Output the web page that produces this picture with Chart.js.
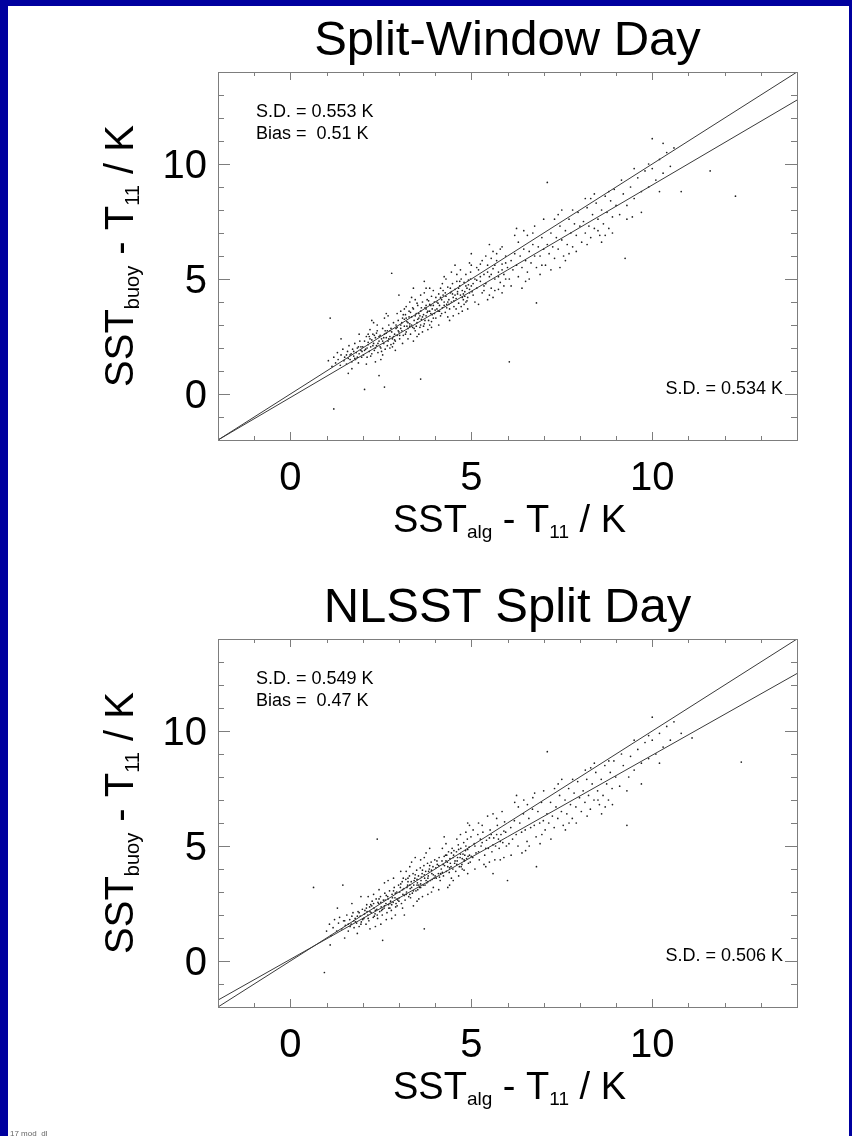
<!DOCTYPE html>
<html>
<head>
<meta charset="utf-8">
<script src="https://cdn.jsdelivr.net/npm/chart.js@4.4.0/dist/chart.umd.min.js"></script>
<style>
  body { margin: 0; width: 852px; height: 1136px; background: #00009f; position: relative; overflow: hidden; }
  #paper { position: absolute; left: 8px; top: 6px; width: 841px; height: 1130px; background: #fff; }
  canvas { position: absolute; left: 0; }
  #stamp { position: absolute; left: 10px; top: 1129px; font: 8px "Liberation Sans", sans-serif; color: #666; }
</style>
</head>
<body>
<div id="paper"></div>
<canvas id="chartTop" width="852" height="568" style="top:0px"></canvas>
<canvas id="chartBottom" width="852" height="568" style="top:567px"></canvas>
<div id="stamp">17 mod_dl</div>
<script>
// axis range and ticks (same for both panels)
const axisMin = -2;
const axisMax = 14;
const tickValues = [-2, -1, 0, 1, 2, 3, 4, 5, 6, 7, 8, 9, 10, 11, 12, 13, 14];
const tickLabels = [0, 5, 10];

// reference lines: x at both ends, y for the 1:1 line and the fitted lines
const lineEndsX = [-2, 14];
const oneToOneY = [-2, 14];
const fitTopY = [-2.0, 12.78];
const fitBottomY = [-1.7, 12.5];

const titles = ['Split-Window Day', 'NLSST Split Day'];
const sdLeft = ['S.D. = 0.553 K', 'S.D. = 0.549 K'];
const biasLeft = ['Bias =  0.51 K', 'Bias =  0.47 K'];
const sdRight = ['S.D. = 0.534 K', 'S.D. = 0.506 K'];

// matchups (SST_alg - T11, SST_buoy - T11)
const pointsTop = `
1.05,1.45 1.1,3.3 1.15,1.2 1.2,1.6 1.25,1.35 1.3,1.8 1.32,1.5 1.38,1.25 1.4,1.7 1.45,1.95 1.48,1.45 1.5,1.6 1.55,1.3
1.58,1.85 1.6,1.55 1.62,2.1 1.65,1.7 1.7,1.4 1.72,1.95 1.75,1.65 1.78,2.2 1.8,1.5 1.82,1.8 1.85,2.0 1.88,1.35 1.9,1.75
1.92,2.3 1.95,1.9 1.97,1.6 2.0,2.05 1.2,-0.65 1.6,0.9 1.9,2.6 1.4,2.4 1.7,1.1
2.02,1.7 2.05,2.3 2.08,1.95 2.1,2.5 2.12,1.6 2.15,2.15 2.18,1.85 2.2,2.4 2.22,2.05 2.25,1.75 2.28,2.6 2.3,2.2 2.32,1.9
2.35,2.45 2.38,2.1 2.4,2.75 2.42,1.8 2.45,2.3 2.48,2.55 2.5,2.0 2.52,2.4 2.55,2.85 2.58,2.2 2.6,2.6 2.62,1.95 2.65,2.45
2.68,2.75 2.7,2.3 2.72,3.0 2.75,2.5 2.78,2.15 2.8,2.7 2.82,2.4 2.85,3.1 2.88,2.6 2.9,2.3 2.92,2.85 2.95,2.55 2.98,3.2
3.0,2.7 2.1,1.3 2.3,3.1 2.5,1.5 2.7,3.4 2.9,1.9 2.4,3.0 2.6,3.3 2.2,2.8 2.8,5.25 2.35,1.4 2.55,1.7 2.75,2.0 2.65,3.5
2.45,0.8 2.85,2.2 2.15,2.6 2.95,3.5 2.05,0.2 2.25,3.2 2.6,0.3
3.02,2.4 3.05,3.0 3.08,2.75 3.1,3.3 3.12,2.55 3.15,2.95 3.18,3.45 3.2,2.7 3.22,3.15 3.25,2.85 3.28,3.6 3.3,3.05 3.32,2.6
3.35,3.35 3.38,2.9 3.4,3.7 3.42,3.2 3.45,2.75 3.48,3.5 3.5,3.1 3.52,3.85 3.55,3.3 3.58,2.9 3.6,3.6 3.62,3.25 3.65,4.0
3.68,3.45 3.7,3.05 3.72,3.75 3.75,3.4 3.78,4.1 3.8,3.6 3.82,3.2 3.85,3.9 3.88,3.5 3.9,4.25 3.92,3.7 3.95,3.3 3.98,4.0
4.0,3.65 3.1,2.2 3.3,4.0 3.5,2.5 3.7,4.4 3.9,2.9 3.2,3.8 3.4,2.3 3.6,4.3 3.8,2.8 3.15,3.7 3.35,4.2 3.55,2.6 3.75,4.6
3.95,4.5 3.45,4.1 3.65,2.7 3.25,2.4 3.85,3.0 3.05,3.6 3.6,0.65 3.0,4.3 3.4,4.6 3.7,4.9 3.9,3.15 3.5,3.95 3.3,2.95
3.75,3.7 3.6,3.0 3.2,3.3 3.85,4.6
4.02,3.3 4.05,4.0 4.08,3.6 4.1,4.35 4.12,3.85 4.15,3.4 4.18,4.1 4.2,3.75 4.22,4.5 4.25,4.0 4.28,3.55 4.3,4.25 4.32,3.9
4.35,4.65 4.38,4.1 4.4,3.7 4.42,4.4 4.45,4.0 4.48,4.8 4.5,4.2 4.52,3.8 4.55,4.55 4.58,4.15 4.6,4.9 4.62,4.35 4.65,3.95
4.68,4.7 4.7,4.3 4.72,5.0 4.75,4.5 4.78,4.1 4.8,4.85 4.82,4.45 4.85,5.2 4.88,4.6 4.9,4.2 4.92,4.95 4.95,4.55 4.98,5.3
5.0,4.7 4.1,3.0 4.3,5.0 4.5,3.4 4.7,5.4 4.9,3.7 4.2,4.8 4.4,3.2 4.6,5.2 4.8,3.9 4.15,4.6 4.35,3.35 4.55,5.6 4.75,3.6
4.95,5.7 4.25,5.1 4.45,5.3 4.65,3.5 4.85,4.0
5.05,4.3 5.1,5.0 5.15,4.6 5.2,5.4 5.25,4.9 5.3,4.4 5.35,5.2 5.4,4.8 5.45,5.6 5.5,5.1 5.55,4.6 5.6,5.45 5.65,5.0 5.7,5.8
5.75,5.3 5.8,4.85 5.85,5.65 5.9,5.2 5.95,6.0 6.0,5.5 5.1,4.0 5.3,5.8 5.5,4.3 5.7,6.1 5.9,4.7 5.2,3.9 5.4,6.0 5.6,4.2
5.8,6.3 5.0,5.6 5.25,5.65 5.45,4.1 5.65,4.5 5.85,6.4 5.35,4.5 5.55,5.9 5.75,4.55 5.95,5.0 5.15,5.5 5.6,6.2 5.5,6.5
5.85,4.4 5.0,6.1
6.05,5.0 6.1,5.8 6.15,5.4 6.2,6.1 6.25,5.6 6.3,5.1 6.35,6.0 6.4,5.5 6.45,6.3 6.5,5.8 6.55,5.3 6.6,6.2 6.65,5.7 6.7,6.5
6.75,6.0 6.8,5.5 6.85,6.4 6.9,6.0 6.95,6.8 7.0,6.3 6.1,4.7 6.3,6.6 6.5,4.9 6.7,7.0 6.9,5.2 6.2,6.9 6.4,4.6 6.6,5.0
6.8,3.96 6.05,1.4 6.25,7.2 6.45,7.1 6.75,7.3 6.95,5.6 6.55,6.9
7.05,5.6 7.1,6.5 7.15,6.1 7.2,7.0 7.25,6.4 7.3,5.9 7.35,6.8 7.4,6.3 7.45,7.3 7.5,6.7 7.55,6.0 7.6,7.1 7.65,6.5 7.7,7.6
7.75,7.0 7.8,6.4 7.85,7.4 7.9,6.9 7.95,7.9 8.0,7.3 7.1,9.2 7.2,5.4 7.4,7.8 7.6,5.8 7.8,8.0 7.3,7.6 7.7,6.1 7.5,8.0
7.9,6.2 7.0,7.6 7.45,5.5
8.05,6.6 8.1,7.5 8.15,7.0 8.2,8.1 8.25,7.3 8.3,6.8 8.35,7.8 8.4,7.2 8.45,8.3 8.5,7.6 8.55,6.9 8.6,8.0 8.65,7.4 8.7,8.6
8.75,7.9 8.8,7.2 8.85,8.4 8.9,7.7 8.95,8.9 9.0,8.2 8.2,6.5 8.4,8.7 8.6,6.6 8.8,8.8 8.3,8.5 8.7,6.9 8.5,7.1 8.9,7.0
8.15,8.5
9.1,7.8 9.2,8.7 9.25,5.9 9.3,8.2 9.4,9.0 9.5,8.5 9.6,9.4 9.7,8.8 9.8,9.7 9.9,9.0 10.0,9.8 10.0,11.1 10.1,9.3 10.2,10.2
10.3,9.6 10.4,10.5 10.5,9.9 9.3,7.6 9.5,9.8 9.7,7.9 9.9,10.0 10.2,8.8 10.6,10.7 9.15,9.3 9.45,7.7 10.8,8.8 11.6,9.7
12.3,8.6 10.3,10.9`;

// extra matchups in the dense core of the top panel
const pointsTopCore = `
1.55,1.7 1.65,1.5 1.75,1.85 1.85,1.6 1.95,2.05 2.05,1.9 2.15,2.25 2.25,2.35 2.35,2.0 2.45,2.5 2.55,2.3 2.65,2.65
2.75,2.75 2.85,2.5 2.95,2.9 3.05,2.85 3.15,3.25 3.25,3.1 3.35,3.0 3.45,3.4 3.55,3.5 3.65,3.35 3.75,3.85 3.85,3.6
3.95,3.85 4.05,3.7 4.15,4.2 4.25,3.85 4.35,4.0 4.45,4.45 4.55,4.3 4.65,4.6 4.75,4.2 4.85,4.7 4.95,4.4 5.05,4.8
5.15,4.95 5.25,5.1 5.35,4.7 5.45,5.3 5.55,5.2 5.65,5.6 5.75,5.1 5.85,5.4 5.95,5.7
2.12,2.0 2.22,1.65 2.32,2.55 2.42,2.2 2.52,1.85 2.62,2.75 2.72,2.4 2.82,2.05 2.92,3.0 3.02,2.55 3.12,3.45 3.22,2.95
3.32,3.55 3.42,2.85 3.52,3.25 3.62,3.75 3.72,3.2 3.82,4.05 3.92,3.45 4.02,4.2 4.12,3.6 4.22,4.3 4.32,3.75 4.42,4.6
4.52,4.05 4.62,4.45 4.72,3.8 4.82,4.25 4.92,4.75 5.02,4.45 3.08,3.1 3.18,2.6 3.28,3.35 3.38,3.75 3.48,2.95 3.58,3.4
3.68,2.95 3.78,3.55 3.88,3.85 3.98,3.5 4.08,3.95 4.18,3.5 4.28,4.4 4.38,3.9 4.48,4.35 4.58,3.7 4.68,4.9 4.78,4.35
4.88,4.05 4.98,5.0 2.18,2.5 2.28,2.1 2.38,2.65 2.48,2.05 2.58,2.45 2.68,2.1 2.78,2.85 2.88,2.35 2.98,2.75 1.68,1.75
1.78,1.55 1.88,2.05 1.98,1.85`;

const pointsBottom = `
0.64,3.2 0.94,-0.5 1.0,1.3 1.08,1.6 1.12,1.1 1.18,1.45 1.22,1.8 1.28,1.3 1.33,1.65 1.36,1.9 1.42,1.4 1.47,1.75 1.52,1.55
1.56,2.0 1.6,1.3 1.64,1.8 1.68,1.6 1.73,2.1 1.76,1.45 1.79,1.85 1.83,1.65 1.87,2.15 1.9,1.5 1.93,1.95 1.96,1.7 1.99,2.25
1.3,2.3 1.5,1.0 1.7,2.5 1.85,1.2 1.1,0.7 1.45,3.3 1.95,2.8
2.03,1.85 2.06,2.2 2.09,1.6 2.11,2.45 2.14,2.0 2.17,1.75 2.19,2.35 2.23,2.1 2.26,2.6 2.29,1.9 2.31,2.3 2.34,2.05 2.37,2.7
2.39,2.25 2.41,1.85 2.44,2.5 2.47,2.15 2.49,2.8 2.51,2.35 2.54,2.0 2.57,2.65 2.59,2.3 2.61,2.95 2.64,2.5 2.67,2.1 2.69,2.8
2.71,2.45 2.74,3.05 2.77,2.6 2.79,2.2 2.81,2.9 2.84,2.55 2.87,3.2 2.89,2.75 2.91,2.35 2.94,3.0 2.97,2.65 2.99,3.3 2.4,5.3
2.2,1.4 2.6,3.4 2.8,1.85 2.3,2.9 2.5,1.6 2.7,3.5 2.9,2.0 2.15,2.8 2.45,3.1 2.65,1.8 2.85,3.6 2.35,1.5 2.55,0.9 2.75,2.3
2.95,2.4
3.01,2.75 3.04,3.2 3.07,2.5 3.09,3.45 3.11,2.9 3.14,3.15 3.17,2.65 3.19,3.55 3.21,3.0 3.24,3.3 3.27,2.8 3.29,3.7 3.31,3.15
3.34,3.45 3.37,2.95 3.39,3.8 3.41,3.3 3.44,3.6 3.47,3.05 3.49,3.95 3.51,3.4 3.54,3.7 3.57,3.2 3.59,4.05 3.61,3.5 3.64,3.8
3.67,3.3 3.69,4.15 3.71,3.6 3.74,3.9 3.77,3.4 3.79,4.25 3.81,3.7 3.84,4.0 3.87,3.5 3.89,4.3 3.91,3.8 3.94,4.1 3.97,3.6
3.99,4.4 3.1,2.3 3.3,4.1 3.5,2.6 3.7,4.5 3.9,3.0 3.2,3.9 3.4,2.4 3.6,4.4 3.8,2.9 3.15,2.0 3.35,4.3 3.55,2.7 3.75,4.7
3.95,3.2 3.45,4.5 3.65,2.8 3.25,3.6 3.85,4.9 3.05,3.9 3.7,1.4 3.5,3.3 3.3,2.9 3.8,3.6 3.6,3.2
4.03,3.6 4.06,4.2 4.09,3.8 4.11,4.5 4.14,3.5 4.17,4.0 4.19,4.35 4.23,3.7 4.26,4.15 4.29,4.6 4.31,3.9 4.34,4.3 4.37,4.75
4.39,3.85 4.41,4.45 4.44,4.1 4.47,4.9 4.49,4.0 4.51,4.6 4.54,4.25 4.57,3.9 4.59,4.75 4.61,4.35 4.64,5.05 4.67,4.1 4.69,4.5
4.71,4.9 4.74,4.2 4.77,4.65 4.79,5.15 4.81,4.35 4.84,4.8 4.87,4.45 4.89,5.3 4.91,4.55 4.94,4.95 4.97,4.3 4.99,5.4 4.1,3.1
4.3,5.1 4.5,3.5 4.7,5.5 4.9,3.8 4.2,4.9 4.4,3.3 4.6,5.3 4.8,3.95 4.95,5.9 4.25,5.4 4.45,3.6 4.65,3.7 4.85,5.6 4.9,6.0
4.35,3.2 4.75,4.0
5.04,4.5 5.08,5.1 5.13,4.7 5.18,5.5 5.22,4.4 5.27,5.0 5.32,5.6 5.37,4.6 5.42,5.25 5.47,4.9 5.52,5.7 5.57,4.75 5.62,5.35
5.67,5.0 5.72,5.9 5.77,4.9 5.82,5.5 5.87,5.15 5.92,6.05 5.97,5.0 5.1,4.0 5.3,5.9 5.5,4.3 5.7,6.2 5.9,4.5 5.2,6.0 5.4,4.1
5.6,6.4 5.8,4.4 5.05,5.7 5.45,6.3 5.65,4.4 5.85,6.5 5.35,4.2 5.55,5.5 5.75,5.3 5.95,5.6 5.25,5.3 5.6,3.8
6.04,5.1 6.09,5.8 6.14,5.3 6.19,6.1 6.24,5.5 6.29,5.0 6.34,6.0 6.39,5.6 6.44,6.4 6.49,5.7 6.54,5.2 6.59,6.2 6.64,5.8
6.69,6.6 6.74,5.9 6.79,5.4 6.84,6.5 6.89,6.0 6.94,6.9 6.99,6.1 6.1,4.6 6.3,6.7 6.5,4.8 6.7,7.1 6.9,5.1 6.2,6.9 6.4,4.7
6.6,5.0 6.8,4.1 6.25,7.2 6.45,7.0 6.75,7.3 6.95,5.5 6.55,6.8 6.0,3.5
7.04,5.7 7.09,6.4 7.14,6.0 7.19,6.9 7.24,6.3 7.29,5.8 7.34,6.7 7.39,6.2 7.44,7.2 7.49,6.5 7.54,5.9 7.59,7.0 7.64,6.4
7.69,7.5 7.74,6.8 7.79,6.2 7.84,7.3 7.89,6.7 7.94,7.8 7.99,7.1 7.1,9.1 7.2,5.3 7.4,7.7 7.6,5.7 7.8,7.9 7.3,7.5 7.7,6.0
7.5,7.9 7.9,6.0 7.0,7.4
8.04,6.5 8.09,7.4 8.14,6.9 8.19,7.9 8.24,7.2 8.29,6.6 8.34,7.7 8.39,7.0 8.44,8.2 8.49,7.4 8.54,6.8 8.59,7.9 8.64,7.2
8.69,8.5 8.74,7.7 8.79,7.0 8.84,8.2 8.89,7.5 8.94,8.7 8.99,8.0 8.2,6.3 8.4,8.6 8.6,6.4 8.8,8.7 8.3,8.4 8.7,6.7 8.5,7.0
8.9,6.8 8.15,8.3
9.1,7.6 9.2,8.5 9.3,5.9 9.35,8.0 9.4,8.9 9.5,8.3 9.6,9.2 9.7,8.6 9.8,9.5 9.9,8.8 10.0,9.6 10.0,10.6 10.1,9.0 10.2,9.9
10.3,9.3 10.4,10.2 10.5,9.6 9.3,7.4 9.5,9.6 9.7,7.7 9.9,9.8 10.2,8.6 10.6,10.4 9.15,9.0 11.1,9.7 12.46,8.65 10.8,9.9`;

// extra matchups in the dense core of the bottom panel
const pointsBottomCore = `
1.5,1.75 1.6,1.6 1.7,1.95 1.8,1.7 1.9,2.1 2.0,1.8 2.1,2.3 2.2,2.15 2.3,2.5 2.4,2.0 2.5,2.55 2.6,2.4 2.7,2.7 2.8,2.45
2.9,2.95 3.0,2.6 3.1,3.1 3.2,2.9 3.3,3.3 3.4,3.05 3.5,3.55 3.6,3.35 3.7,3.75 3.8,3.45 3.9,3.95 4.0,3.7 4.1,4.15 4.2,3.85
4.3,4.35 4.4,4.05 4.5,4.5 4.6,4.2 4.7,4.65 4.8,4.4 4.9,4.85 5.0,4.55 5.1,5.0 5.2,4.75 5.3,5.15 5.4,4.9 5.5,5.35 5.6,5.05
5.7,5.5 5.8,5.2 5.9,5.65
2.05,2.05 2.15,1.85 2.25,2.4 2.35,2.2 2.45,2.7 2.55,2.25 2.65,2.85 2.75,2.5 2.85,3.05 2.95,2.7 3.05,3.35 3.15,2.85
3.25,3.45 3.35,3.2 3.45,3.75 3.55,3.3 3.65,3.95 3.75,3.5 3.85,4.15 3.95,3.75 4.05,4.35 4.15,3.8 4.25,4.55 4.35,4.1
4.45,4.7 4.55,4.35 4.65,4.85 4.75,4.45 4.85,5.0 4.95,4.6 3.02,3.0 3.12,3.6 3.22,3.2 3.32,2.75 3.42,3.5 3.52,3.1
3.62,3.65 3.72,3.3 3.82,3.9 3.92,3.55 4.02,4.05 4.12,3.65 4.22,4.2 4.32,4.6 4.42,4.25 4.52,4.8 4.62,4.5 4.72,4.1
4.82,4.6 4.92,4.25 2.12,2.15 2.22,2.45 2.32,1.95 2.42,2.55 2.52,2.2 2.62,2.65 2.72,2.3 2.82,2.75 2.92,2.5 1.65,1.5
1.75,1.75 1.85,1.95 1.95,1.6`;

const FONT = '"Liberation Sans", Arial, sans-serif';

function parsePoints(s) {
    return s.trim().split(/\s+/).map(p => {
        const [x, y] = p.split(',').map(Number);
        return { x, y };
    });
}

function linePoints(ys) {
    return lineEndsX.map((x, i) => ({ x, y: ys[i] }));
}

// draws text made of [text, isSubscript] pieces, centred on x
function drawParts(ctx, parts, x, y, size) {
    const subSize = Math.round(size * 0.5);
    let total = 0;
    parts.forEach(([t, sub]) => {
        ctx.font = `${sub ? subSize : size}px ${FONT}`;
        total += ctx.measureText(t).width;
    });
    let cx = x - total / 2;
    ctx.textAlign = 'left';
    ctx.textBaseline = 'alphabetic';
    parts.forEach(([t, sub]) => {
        ctx.font = `${sub ? subSize : size}px ${FONT}`;
        ctx.fillText(t, cx, sub ? y + size * 0.16 : y);
        cx += ctx.measureText(t).width;
    });
}

const idlAxes = {
    id: 'idlAxes',
    afterDatasetsDraw(chart, args, opts) {
        const { ctx, chartArea: a, scales: { x, y } } = chart;
        ctx.save();
        ctx.strokeStyle = '#7d7d7d';
        ctx.lineWidth = 1;
        ctx.strokeRect(a.left + 0.5, a.top + 0.5, a.right - a.left, a.bottom - a.top);

        ctx.beginPath();
        tickValues.forEach(v => {
            const major = tickLabels.includes(v);
            const px = Math.round(x.getPixelForValue(v)) + 0.5;
            const xl = major ? 8 : 4;
            ctx.moveTo(px, a.bottom); ctx.lineTo(px, a.bottom - xl);
            ctx.moveTo(px, a.top); ctx.lineTo(px, a.top + xl);
            const py = Math.round(y.getPixelForValue(v)) + 0.5;
            const yl = major ? 12 : 6;
            ctx.moveTo(a.left, py); ctx.lineTo(a.left + yl, py);
            ctx.moveTo(a.right, py); ctx.lineTo(a.right - yl, py);
        });
        ctx.stroke();

        ctx.fillStyle = '#000';
        ctx.font = `40px ${FONT}`;
        tickLabels.forEach(v => {
            ctx.textAlign = 'center';
            ctx.textBaseline = 'alphabetic';
            ctx.fillText(String(v), x.getPixelForValue(v), a.bottom + 50);
            ctx.textAlign = 'right';
            ctx.fillText(String(v), a.left - 11, y.getPixelForValue(v) + 14);
        });

        // title
        ctx.textAlign = 'center';
        ctx.font = `49px ${FONT}`;
        ctx.fillText(opts.title, (a.left + a.right) / 2, a.top - 17);

        // annotations
        ctx.font = `18px ${FONT}`;
        ctx.textAlign = 'left';
        ctx.fillText(opts.sd, a.left + 38, a.top + 45);
        ctx.fillText(opts.bias, a.left + 38, a.top + 67);
        ctx.textAlign = 'right';
        ctx.fillText(opts.sdRight, a.right - 14, y.getPixelForValue(0));

        // axis titles
        drawParts(ctx, [['SST', false], ['alg', true], [' - T', false], ['11', true], [' / K', false]],
            (a.left + a.right) / 2 + 2, a.bottom + 92, 38);
        ctx.save();
        ctx.translate(a.left - 85, (a.top + a.bottom) / 2);
        ctx.rotate(-Math.PI / 2);
        drawParts(ctx, [['SST', false], ['buoy', true], [' - T', false], ['11', true], [' / K', false]], 0, 0, 40);
        ctx.restore();
        ctx.restore();
    }
};

function makePanel(canvasId, pts, fitY, i) {
    return new Chart(document.getElementById(canvasId), {
        type: 'scatter',
        data: {
            datasets: [
                { data: linePoints(oneToOneY), showLine: true, borderColor: '#3a3a3a', borderWidth: 1, pointRadius: 0 },
                { data: linePoints(fitY), showLine: true, borderColor: '#3a3a3a', borderWidth: 1, pointRadius: 0 },
                { data: parsePoints(pts), pointRadius: 0.85, borderWidth: 0, backgroundColor: '#1e1e1e' }
            ]
        },
        options: {
            responsive: false,
            animation: false,
            layout: { padding: { left: 218, top: 72, right: 55, bottom: 128 } },
            scales: {
                x: { type: 'linear', min: axisMin, max: axisMax, display: false },
                y: { type: 'linear', min: axisMin, max: axisMax, display: false }
            },
            plugins: {
                legend: { display: false },
                tooltip: { enabled: false },
                idlAxes: { title: titles[i], sd: sdLeft[i], bias: biasLeft[i], sdRight: sdRight[i] }
            }
        },
        plugins: [idlAxes]
    });
}

makePanel('chartTop', pointsTop + ' ' + pointsTopCore, fitTopY, 0);
makePanel('chartBottom', pointsBottom + ' ' + pointsBottomCore, fitBottomY, 1);
</script>
</body>
</html>
